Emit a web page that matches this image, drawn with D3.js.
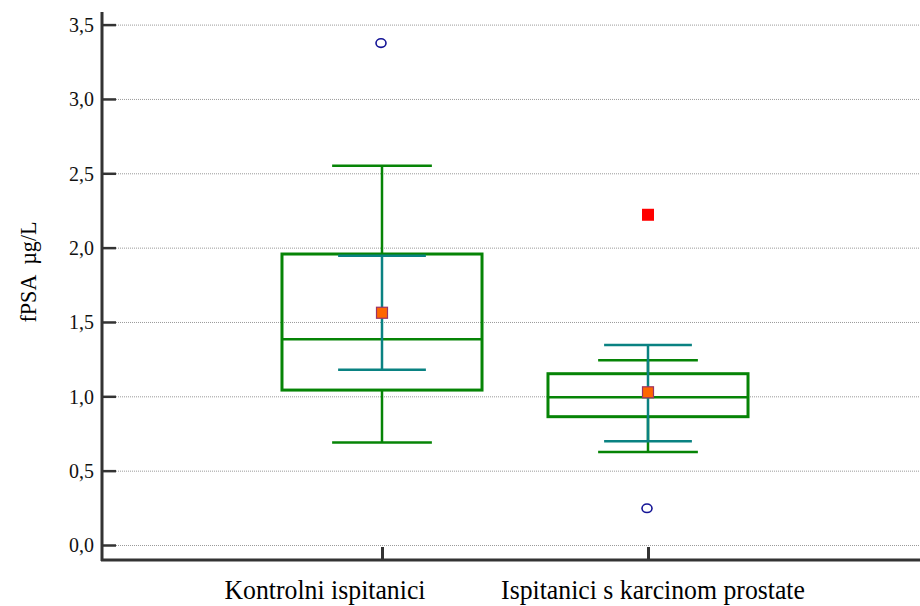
<!DOCTYPE html>
<html>
<head>
<meta charset="utf-8">
<script src="https://cdn.jsdelivr.net/npm/d3@7"></script>
<style>
  body { margin: 0; background: #fff; }
  text { font-family: "Liberation Serif", "Times New Roman", serif; }
</style>
</head>
<body>
<script>
// categories and box-plot statistics
var groups = ["Kontrolni ispitanici", "Ispitanici s karcinom prostate"];
var whiskerLow  = [0.69, 0.625];
var q1          = [1.042, 0.863];
var median      = [1.383, 0.993];
var q3          = [1.957, 1.152];
var whiskerHigh = [2.551, 1.242];
var mean        = [1.562, 1.027];
var ciLow       = [1.179, 0.697];
var ciHigh      = [1.946, 1.345];
// outliers: circles are outside values, squares are far-out values
var outsideValues = [[3.376], [0.247]];
var farOutValues  = [[], [2.221]];
var yTicks = [0, 0.5, 1, 1.5, 2, 2.5, 3, 3.5];

var width = 920, height = 606;

var svg = d3.select("body").append("svg")
    .attr("width", width)
    .attr("height", height);

// set the ranges
var y = d3.scaleLinear().domain([0, 3.5]).range([545, 24.6]);
var x = d3.scalePoint().domain(groups).range([116, 914]).padding(1);

var step = x.step();
var boxW = step * 0.752, capW = step * 0.375, ciW = step * 0.33;
// label shifts as in the original layout
var labelDx = [-57, 5];

var fmt = function(d) { return d3.format(".1f")(d).replace(".", ","); };

// gridlines
svg.append("g")
    .selectAll("line")
    .data(yTicks)
    .join("line")
    .attr("x1", 116).attr("x2", 920)
    .attr("y1", function(d) { return y(d) + 0.5; })
    .attr("y2", function(d) { return y(d) + 0.5; })
    .attr("stroke", "#9a9a9a")
    .attr("stroke-width", 1)
    .attr("stroke-dasharray", "1,1");

// Y axis
var yAxis = svg.append("g")
    .attr("transform", "translate(102,0)")
    .call(d3.axisRight(y).tickValues(yTicks).tickSize(14).tickFormat(""));
yAxis.select(".domain").remove();
yAxis.selectAll(".tick line").attr("stroke", "#333").attr("stroke-width", 2.5);
svg.append("line")
    .attr("x1", 102).attr("x2", 102).attr("y1", 12).attr("y2", 561)
    .attr("stroke", "#333").attr("stroke-width", 3);

svg.append("g")
    .selectAll("text")
    .data(yTicks)
    .join("text")
    .attr("transform", function(d) { return "translate(94," + y(d) + ") scale(0.95,1)"; })
    .attr("dy", "0.35em")
    .attr("text-anchor", "end")
    .style("font-size", "21px")
    .attr("fill", "#111")
    .text(fmt);

// X axis
var xAxis = svg.append("g")
    .attr("transform", "translate(0,560)")
    .call(d3.axisTop(x).tickSize(13).tickFormat(""));
xAxis.select(".domain").remove();
xAxis.selectAll(".tick line").attr("stroke", "#333").attr("stroke-width", 3);
svg.append("line")
    .attr("x1", 101).attr("x2", 920).attr("y1", 560).attr("y2", 560)
    .attr("stroke", "#333").attr("stroke-width", 3);

svg.append("g")
    .selectAll("text")
    .data(groups)
    .join("text")
    .attr("transform", function(d, i) { return "translate(" + (x(d) + labelDx[i]) + ",599) scale(0.92,1)"; })
    .attr("text-anchor", "middle")
    .style("font-size", "28px")
    .attr("fill", "#000")
    .text(function(d) { return d; });

// y-axis label
svg.append("text")
    .attr("transform", "translate(36,272) rotate(-90) scale(0.92,1)")
    .attr("text-anchor", "middle")
    .style("font-size", "24px")
    .style("white-space", "pre")
    .attr("fill", "#000")
    .text("fPSA  \u00b5g/L");

var green = "#068406", teal = "#0a8282";

var g = svg.append("g")
    .selectAll("g")
    .data(groups)
    .join("g");

// whiskers (vertical parts outside the box)
g.append("line")
    .attr("x1", function(d) { return x(d); }).attr("x2", function(d) { return x(d); })
    .attr("y1", function(d, i) { return y(q3[i]); })
    .attr("y2", function(d, i) { return y(whiskerHigh[i]); })
    .attr("stroke", green).attr("stroke-width", 2.5);
g.append("line")
    .attr("x1", function(d) { return x(d); }).attr("x2", function(d) { return x(d); })
    .attr("y1", function(d, i) { return y(q1[i]); })
    .attr("y2", function(d, i) { return y(whiskerLow[i]); })
    .attr("stroke", green).attr("stroke-width", 2.5);

// whisker caps
[whiskerHigh, whiskerLow].forEach(function(arr) {
    g.append("line")
        .attr("x1", function(d) { return x(d) - capW / 2; })
        .attr("x2", function(d) { return x(d) + capW / 2; })
        .attr("y1", function(d, i) { return y(arr[i]); })
        .attr("y2", function(d, i) { return y(arr[i]); })
        .attr("stroke", green).attr("stroke-width", 2.5);
});

// box
g.append("rect")
    .attr("x", function(d) { return x(d) - boxW / 2; })
    .attr("y", function(d, i) { return y(q3[i]); })
    .attr("width", boxW)
    .attr("height", function(d, i) { return y(q1[i]) - y(q3[i]); })
    .attr("fill", "none")
    .attr("stroke", green).attr("stroke-width", 3);

// median
g.append("line")
    .attr("x1", function(d) { return x(d) - boxW / 2; })
    .attr("x2", function(d) { return x(d) + boxW / 2; })
    .attr("y1", function(d, i) { return y(median[i]); })
    .attr("y2", function(d, i) { return y(median[i]); })
    .attr("stroke", green).attr("stroke-width", 2.5);

// confidence interval of the mean
g.append("line")
    .attr("x1", function(d) { return x(d); }).attr("x2", function(d) { return x(d); })
    .attr("y1", function(d, i) { return y(ciHigh[i]); })
    .attr("y2", function(d, i) { return y(ciLow[i]); })
    .attr("stroke", teal).attr("stroke-width", 2.5);
[ciHigh, ciLow].forEach(function(arr) {
    g.append("line")
        .attr("x1", function(d) { return x(d) - ciW / 2; })
        .attr("x2", function(d) { return x(d) + ciW / 2; })
        .attr("y1", function(d, i) { return y(arr[i]); })
        .attr("y2", function(d, i) { return y(arr[i]); })
        .attr("stroke", teal).attr("stroke-width", 2.5);
});

// mean marker
g.append("rect")
    .attr("x", function(d) { return x(d) - 5.5; })
    .attr("y", function(d, i) { return y(mean[i]) - 5.5; })
    .attr("width", 11).attr("height", 11)
    .attr("fill", "#ff6600")
    .attr("stroke", "#993366").attr("stroke-width", 1.2);

// outside values
g.selectAll(".outside")
    .data(function(d, i) { return outsideValues[i].map(function(v) { return {g: d, v: v}; }); })
    .join("ellipse")
    .attr("class", "outside")
    .attr("cx", function(d) { return x(d.g) - 1; })
    .attr("cy", function(d) { return y(d.v); })
    .attr("rx", 5).attr("ry", 4.3)
    .attr("fill", "none")
    .attr("stroke", "#141496").attr("stroke-width", 1.6);

// far out values
g.selectAll(".farout")
    .data(function(d, i) { return farOutValues[i].map(function(v) { return {g: d, v: v}; }); })
    .join("rect")
    .attr("class", "farout")
    .attr("x", function(d) { return x(d.g) - 6; })
    .attr("y", function(d) { return y(d.v) - 6; })
    .attr("width", 12).attr("height", 12)
    .attr("fill", "#ff0000");
</script>
</body>
</html>
